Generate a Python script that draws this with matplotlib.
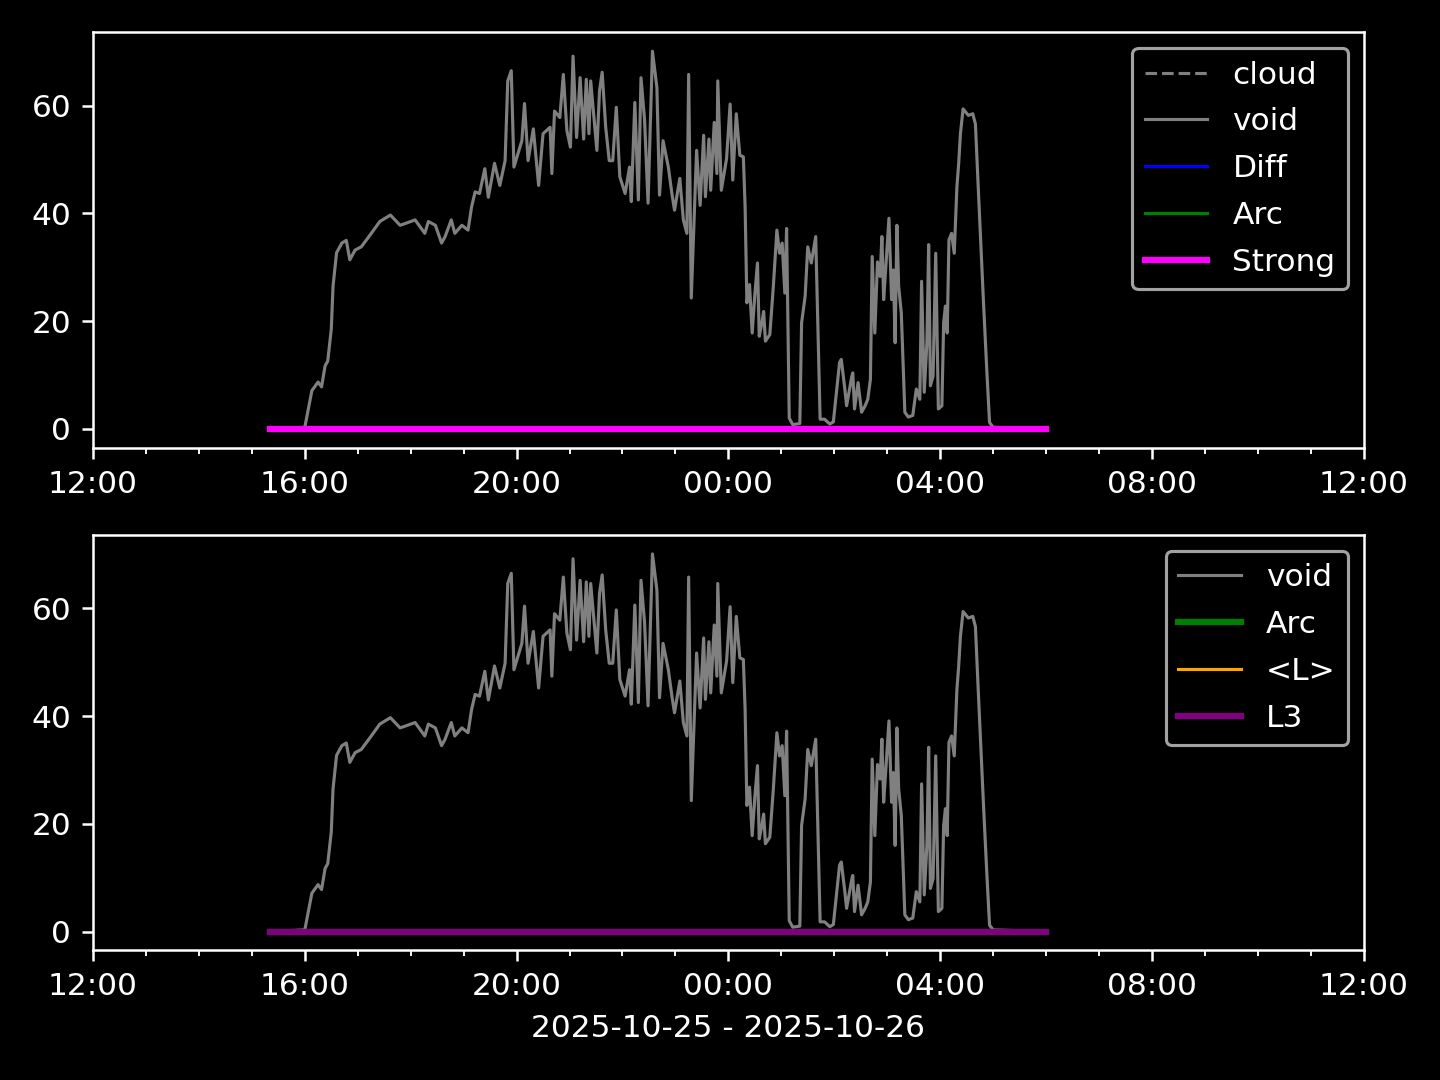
import matplotlib
matplotlib.use("Agg")
import matplotlib.pyplot as plt
import matplotlib.dates as mdates
import numpy as np
import pandas as pd

# minutes after 2025-10-25 12:00
inicio = pd.Timestamp("2025-10-25 12:00")
fim = pd.Timestamp("2025-10-26 12:00")

minutos_void = [
    200, 240, 248, 255, 259, 263, 266, 270, 272, 276, 282, 287, 291, 297, 304, 314,
    325, 337, 348, 355, 365, 376, 380, 388, 395, 399, 406, 410, 418, 425, 429, 433,
    438, 444, 448, 455, 461, 467, 470, 474, 477, 486, 489, 493, 499, 505, 510, 518,
    520, 523, 529, 533, 537, 541, 544, 548, 552, 556, 559, 562, 564, 571, 574, 577,
    581, 585, 589, 593, 597, 603, 608, 610, 614, 618, 621, 625, 629, 634, 639, 642,
    646, 652, 656, 659, 665, 669, 673, 675, 678, 684, 688, 692, 694, 698, 700, 704,
    707, 708, 712, 718, 722, 725, 729, 733, 737, 739, 741, 744, 747, 750, 753, 755,
    758, 760, 762, 767, 771, 775, 778, 781, 784, 786, 789, 793, 801, 803, 807, 810,
    814, 819, 824, 829, 835, 839, 846, 848, 852, 854, 860, 861, 863, 867, 871, 875,
    878, 881, 883, 886, 889, 892, 894, 896, 898, 902, 905, 907, 909, 911, 913, 916,
    920, 924, 929, 933, 937, 939, 942, 945, 947, 949, 952, 955, 958, 962, 964, 966,
    968, 970, 973, 976, 979, 981, 983, 986, 992, 997, 1000, 1003, 1009, 1013, 1016, 1020,
    1080,
]
valores_void = [
    0.0, 0.3, 7.1, 8.7, 7.8, 11.7, 12.6, 18.5, 26.5, 32.7, 34.5, 35.0, 31.4, 33.2, 33.8, 36.0,
    38.5, 39.7, 37.8, 38.2, 38.8, 36.3, 38.5, 37.8, 34.5, 35.7, 38.8, 36.3, 37.8, 36.9, 41.2, 44.0,
    43.7, 48.3, 43.0, 49.3, 45.2, 49.8, 64.6, 66.5, 48.6, 53.5, 60.4, 49.8, 55.7, 45.2, 54.8, 56.0,
    47.4, 59.0, 57.8, 65.8, 55.4, 52.3, 69.2, 54.1, 65.2, 53.8, 64.9, 54.8, 64.6, 51.7, 62.8, 66.2,
    56.0, 49.8, 49.8, 59.7, 46.8, 43.7, 48.6, 42.2, 60.6, 42.5, 65.2, 57.5, 41.9, 70.1, 63.4, 43.4,
    53.5, 48.6, 43.7, 40.6, 46.5, 38.8, 36.3, 65.8, 24.3, 51.7, 41.5, 54.5, 43.1, 53.8, 44.3, 56.9,
    47.4, 64.6, 44.3, 50.2, 60.3, 46.2, 58.5, 50.8, 50.5, 41.2, 23.4, 26.8, 17.8, 24.9, 30.8, 17.2,
    19.7, 21.8, 16.3, 17.5, 26.5, 36.9, 32.6, 34.5, 25.2, 37.2, 2.0, 0.8, 1.0, 19.7, 24.6, 33.8,
    30.8, 35.7, 1.8, 1.8, 0.9, 1.3, 12.3, 12.9, 7.4, 4.3, 9.8, 10.4, 3.7, 8.6, 3.1, 4.3,
    5.5, 9.2, 32.0, 17.8, 31.0, 28.3, 35.7, 24.0, 28.9, 39.1, 24.0, 29.5, 16.0, 37.8, 26.5, 21.5,
    3.1, 2.2, 2.5, 7.4, 5.5, 27.4, 6.8, 16.0, 34.2, 8.0, 9.8, 32.6, 3.7, 4.3, 19.7, 22.8,
    17.8, 35.1, 36.3, 32.6, 44.9, 49.2, 54.8, 59.4, 58.2, 58.5, 56.6, 45.5, 24.0, 10.5, 1.2, 0.3,
    0.0,
]

# the flag series are zero over the whole run
minutos_flags = [200, 1080]
cloud = [0, 0]
diff = [0, 0]
arc = [0, 0]
strong = [0, 0]
media_l = [0, 0]
l3 = [0, 0]

rotulo_x = "2025-10-25 - 2025-10-26"


def tempos(minutos):
    return inicio + pd.to_timedelta(np.array(minutos, dtype=float), unit="min")


def formatar_eixo(ax):
    ax.set_xlim(inicio, fim)
    ax.xaxis.set_major_locator(mdates.HourLocator(byhour=range(0, 24, 4)))
    ax.xaxis.set_minor_locator(mdates.HourLocator())
    ax.xaxis.set_major_formatter(mdates.DateFormatter("%H:%M"))


plt.style.use("dark_background")
fig, (ax1, ax2) = plt.subplots(2, 1, figsize=(6.4, 4.8), dpi=225)

t_void = tempos(minutos_void)
t_flag = tempos(minutos_flags)

ax1.plot(t_flag, cloud, color="gray", linestyle="--", linewidth=1, label="cloud")
ax1.plot(t_void, valores_void, color="gray", linewidth=1, label="void")
ax1.plot(t_flag, diff, color="blue", linewidth=1, label="Diff")
ax1.plot(t_flag, arc, color="green", linewidth=1, label="Arc")
ax1.plot(t_flag, strong, color="magenta", linewidth=2, label="Strong")
ax1.legend(loc="upper right", labelspacing=0.57)
formatar_eixo(ax1)

ax2.plot(t_void, valores_void, color="gray", linewidth=1, label="void")
ax2.plot(t_flag, arc, color="green", linewidth=2, label="Arc")
ax2.plot(t_flag, media_l, color="orange", linewidth=1, label="<L>")
ax2.plot(t_flag, l3, color="purple", linewidth=2, label="L3")
ax2.legend(loc="upper right", labelspacing=0.57)
ax2.set_xlabel(rotulo_x)
formatar_eixo(ax2)

fig.subplots_adjust(left=0.0646, right=0.947, top=0.970, bottom=0.120, hspace=0.21)
fig.savefig("out.png", dpi=225)
plt.close(fig)
